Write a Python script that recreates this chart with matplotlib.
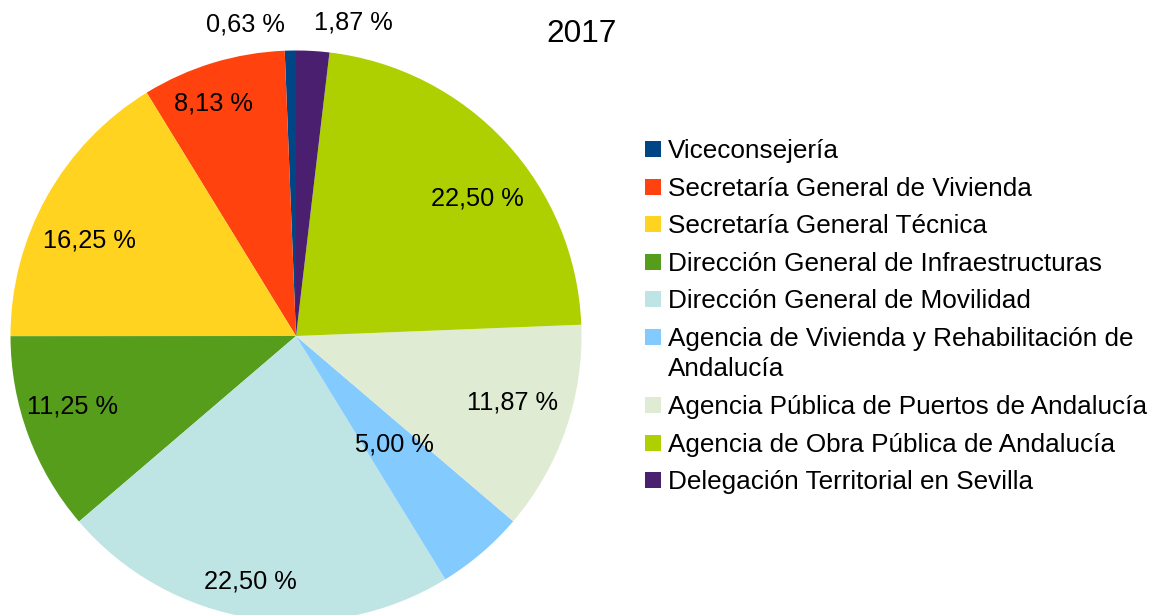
import numpy as np
import matplotlib

matplotlib.use("Agg")
import matplotlib.pyplot as plt
import matplotlib.patches as mpatches

plt.rcParams.update({
    "font.family": ["Liberation Sans", "DejaVu Sans"],
    "figure.facecolor": "white",
})

W, H = 1153, 615

categories = [
    "Viceconsejería",
    "Secretaría General de Vivienda",
    "Secretaría General Técnica",
    "Dirección General de Infraestructuras",
    "Dirección General de Movilidad",
    "Agencia de Vivienda y Rehabilitación de\nAndalucía",
    "Agencia Pública de Puertos de Andalucía",
    "Agencia de Obra Pública de Andalucía",
    "Delegación Territorial en Sevilla",
]
shares = [0.63, 8.13, 16.25, 11.25, 22.50, 5.00, 11.87, 22.50, 1.87]
colors = ["#004586", "#ff420e", "#ffd320", "#579d1c", "#bee4e4",
          "#83caff", "#dfecd3", "#aecf00", "#4b1f6f"]

# label placement (radius in pie units, angular nudge in degrees)
label_r = [1.11, 0.87, 0.80, 0.82, 0.87, 0.51, 0.79, 0.80, 1.12]
label_nudge = [8.1, 2.6, 4.0, -3.2, -1.7, 2.0, 2.4, -5.2, -6.9]


def px(x, y):
    return x / W, 1 - y / H


fig = plt.figure(figsize=(W / 100, H / 100), dpi=100)

cx, cy, R = 296, 336, 285.5
ax = fig.add_axes([(cx - R) / W, 1 - (cy + R) / H, 2 * R / W, 2 * R / H])
wedges, _ = ax.pie(
    shares,
    colors=colors,
    startangle=90,
    counterclock=True,
    radius=1.0,
    wedgeprops=dict(linewidth=0),
)
ax.set_xlim(-1, 1)
ax.set_ylim(-1, 1)
ax.set_axis_off()

half_digit = 8.5 / R
for w, val, r, nd in zip(wedges, shares, label_r, label_nudge):
    mid = np.deg2rad((w.theta1 + w.theta2) / 2 + nd)
    txt = f"{val:.2f} %".replace(".", ",")
    ax.text(r * np.cos(mid), r * np.sin(mid) - half_digit, txt, ha="center", va="baseline",
            fontsize=18.3, color="#000000", clip_on=False)

fig.text(*px(582, 42), "2017", ha="center", va="baseline", fontsize=22.7)

# legend
rows_y = [149, 187, 224, 262, 299, 337, 405, 443, 480]
sq = 16
for lab, col, ry in zip(categories, colors, rows_y):
    x0, y0 = px(645, ry + sq / 2)
    fig.patches.append(mpatches.Rectangle((x0, y0), sq / W, sq / H, transform=fig.transFigure,
                                          facecolor=col, edgecolor="none", figure=fig))
    for i, line in enumerate(lab.split("\n")):
        fig.text(*px(668, ry + 9 + i * 30), line, ha="left", va="baseline", fontsize=18.8)

fig.savefig("out.png", dpi=100)
